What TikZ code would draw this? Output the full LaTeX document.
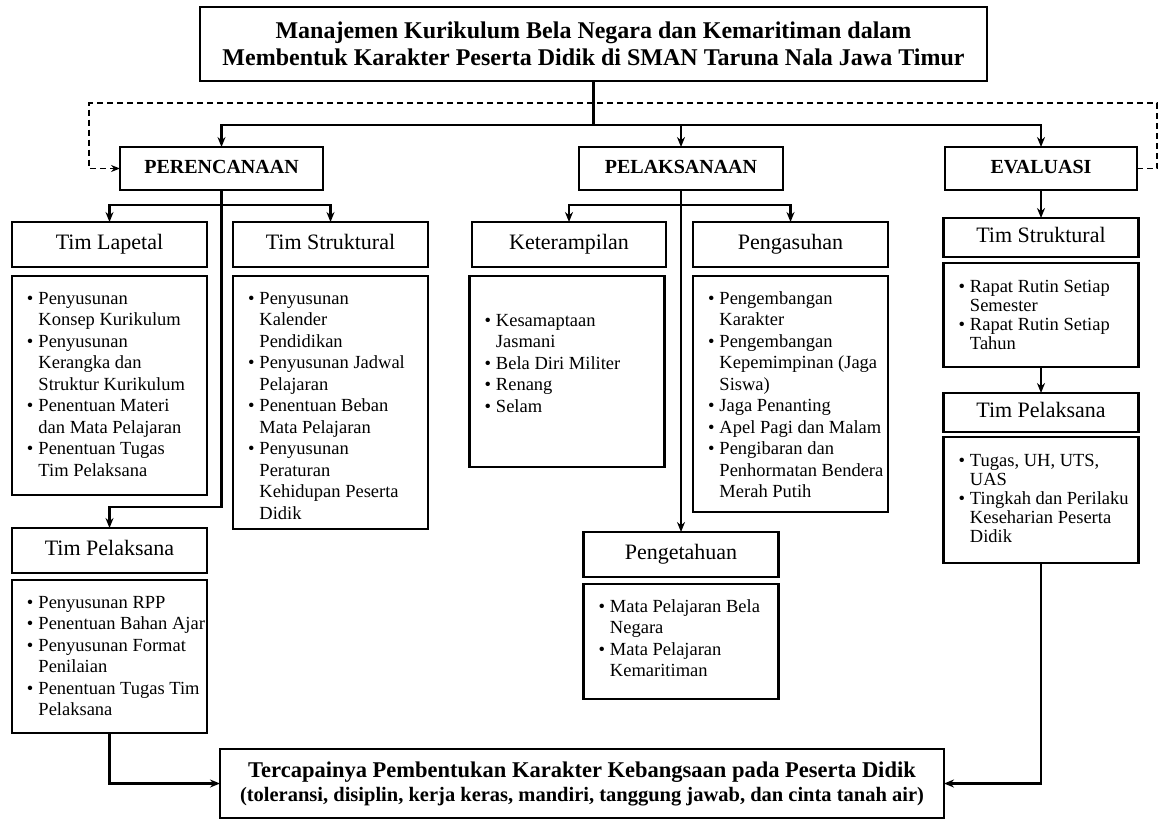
\documentclass[tikz,border=0pt]{standalone}
\usepackage{fontspec}
\setmainfont{Liberation Serif}
\usetikzlibrary{arrows.meta}
\tikzset{box/.style={draw,line width=2.6pt,inner sep=0pt,outer sep=0pt},
         phase/.style={box,minimum height=43pt,text height=14pt,text depth=4pt,font=\fontsize{20}{24}\selectfont\bfseries},
         team/.style={box,minimum width=195pt,minimum height=45pt,text height=15.5pt,text depth=5pt,font=\fontsize{22}{26}\selectfont},
         items/.style={box,font=\fontsize{18.5}{21.5}\selectfont},
         itemsr/.style={box,font=\fontsize{18.5}{19}\selectfont},
         link/.style={line width=2.3pt,-{Stealth[length=10pt,width=8pt]}},
         feedback/.style={line width=1.3pt,dash pattern=on 6pt off 4pt,-{Stealth[length=9pt,width=7pt]}},
        }
\newcommand{\itemlist}[4]{\parbox[c][#1][t]{#2}{\vspace*{#3}\hspace*{15pt}\begin{tabular}[t]{@{}l@{\hspace{5pt}}l@{}}#4\end{tabular}}}

\begin{document}
\begin{tikzpicture}[x=1pt,y=-1pt]
        \useasboundingbox(0,0)rectangle(1159,823);
        \node[box,minimum width=787pt,minimum height=74pt,align=center,font=\fontsize{24}{27}\selectfont\bfseries](ttl)at(593.5,44){Manajemen Kurikulum Bela Negara dan Kemaritiman dalam\\Membentuk Karakter Peserta Didik di SMAN Taruna Nala Jawa Timur};
        \node[phase,minimum width=203pt](prc)at(221.5,168.5){PERENCANAAN};
        \node[phase,minimum width=204pt](plk)at(681,168.5){PELAKSANAAN};
        \node[phase,minimum width=192pt](evl)at(1041,168.5){EVALUASI};

        \node[team](lap)at(109.5,244.5){Tim Lapetal};
        \node[items](lapi)at(109.5,385.5){\itemlist{219pt}{195pt}{13pt}{%
            \textbullet & Penyusunan\\ & Konsep Kurikulum\\
            \textbullet & Penyusunan\\ & Kerangka dan\\ & Struktur Kurikulum\\
            \textbullet & Penentuan Materi\\ & dan Mata Pelajaran\\
            \textbullet & Penentuan Tugas\\ & Tim Pelaksana}};
        \node[team](ts)at(330.5,244.5){Tim Struktural};
        \node[items](tsi)at(330.5,402.5){\itemlist{253pt}{195pt}{13pt}{%
            \textbullet & Penyusunan\\ & Kalender\\ & Pendidikan\\
            \textbullet & Penyusunan Jadwal\\ & Pelajaran\\
            \textbullet & Penentuan Beban\\ & Mata Pelajaran\\
            \textbullet & Penyusunan\\ & Peraturan\\ & Kehidupan Peserta\\ & Didik}};
        \node[team](tp)at(109.5,550.5){Tim Pelaksana};
        \node[items](tpi)at(109.5,656.5){\itemlist{153pt}{195pt}{13pt}{%
            \textbullet & Penyusunan RPP\\
            \textbullet & Penentuan Bahan Ajar\\
            \textbullet & Penyusunan Format\\ & Penilaian\\
            \textbullet & Penentuan Tugas Tim\\ & Pelaksana}};

        \node[team,minimum width=194pt](ket)at(569,244.5){Keterampilan};
        \node[items](keti)at(567,371.5){\itemlist{191pt}{195pt}{35pt}{%
            \textbullet & Kesamaptaan\\ & Jasmani\\
            \textbullet & Bela Diri Militer\\
            \textbullet & Renang\\
            \textbullet & Selam}};
        \node[team](pgs)at(790.5,244.5){Pengasuhan};
        \node[items](pgsi)at(790.5,394){\itemlist{236pt}{195pt}{13pt}{%
            \textbullet & Pengembangan\\ & Karakter\\
            \textbullet & Pengembangan\\ & Kepemimpinan (Jaga\\ & Siswa)\\
            \textbullet & Jaga Penanting\\
            \textbullet & Apel Pagi dan Malam\\
            \textbullet & Pengibaran dan\\ & Penhormatan Bendera\\ & Merah Putih}};
        \node[team](pgt)at(681,554.5){Pengetahuan};
        \node[items](pgti)at(681,641.5){\itemlist{115pt}{195pt}{13pt}{%
            \textbullet & Mata Pelajaran Bela\\ & Negara\\
            \textbullet & Mata Pelajaran\\ & Kemaritiman}};

        \node[team,minimum height=39pt](tsr)at(1041,237.5){Tim Struktural};
        \node[itemsr](tsri)at(1041,315){\itemlist{104pt}{195pt}{16pt}{%
            \textbullet & Rapat Rutin Setiap\\ & Semester\\
            \textbullet & Rapat Rutin Setiap\\ & Tahun}};
        \node[team,minimum height=39pt](tpr)at(1041,412.5){Tim Pelaksana};
        \node[itemsr](tpri)at(1041,500){\itemlist{126pt}{195pt}{16pt}{%
            \textbullet & Tugas, UH, UTS,\\ & UAS\\
            \textbullet & Tingkah dan Perilaku\\ & Keseharian Peserta\\ & Didik}};

        \node[box,minimum width=724pt,minimum height=69pt,align=center,font=\fontsize{22.5}{24}\selectfont\bfseries](fin)at(582,783.5){Tercapainya Pembentukan Karakter Kebangsaan pada Peserta Didik\\{\fontsize{20.5}{24}\selectfont(toleransi, disiplin, kerja keras, mandiri, tanggung jawab, dan cinta tanah air)}};

        \coordinate(b0)at(593.5,125);
        \coordinate(b1)at(221.5,205);
        \coordinate(b2)at(681,205);
        \coordinate(b3)at(221.5,507);
        \coordinate(d1)at(1157,103);
        \coordinate(d2)at(89,103);

        \draw[link](ttl.south)--(b0)-|(prc.north);
        \draw[link](b0)-|(plk.north);
        \draw[link](b0)-|(evl.north);
        \draw[link](prc.south)--(b1)-|(lap.north);
        \draw[link](b1)-|(ts.north);
        \draw[link](prc.south)--(b3)-|(tp.north);
        \draw[link](plk.south)--(b2)-|(ket.north);
        \draw[link](b2)-|(pgs.north);
        \draw[link](plk.south)--(pgt.north);
        \draw[link](evl.south)--(tsr.north);
        \draw[link](tsri.south)--(tpr.north);
        \draw[link](tpi.south)|-(fin.west);
        \draw[link](tpri.south)|-(fin.east);

        \draw[feedback](evl.east)-|(d1)--(d2)|-(prc.west);
    \end{tikzpicture}
\end{document}
